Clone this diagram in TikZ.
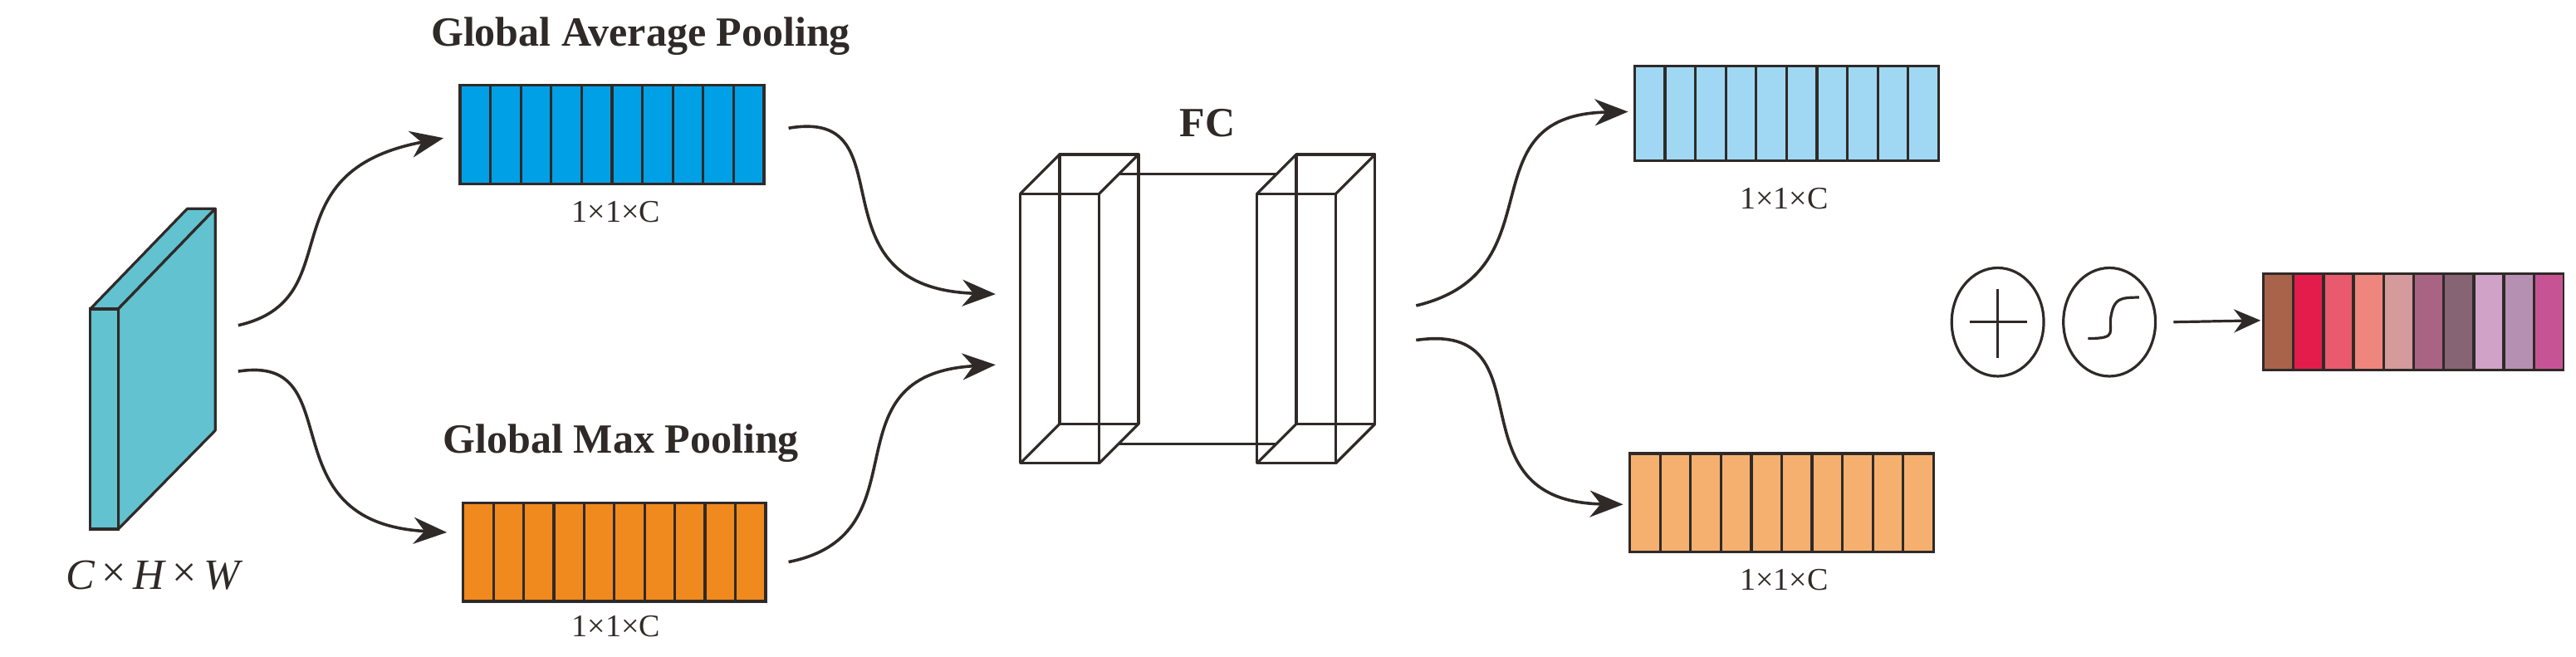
\documentclass[tikz,border=0pt]{standalone}
\usepackage{fontspec}
\setmainfont{Liberation Serif}
\usetikzlibrary{arrows.meta,shapes.geometric}
\definecolor{ink}{HTML}{2F2A28}
\definecolor{slab}{HTML}{62C2D0}
\definecolor{cblue}{HTML}{00A0E6}
\definecolor{corange}{HTML}{F0891E}
\definecolor{lblue}{HTML}{A0D8F4}
\definecolor{lorange}{HTML}{F5B070}
\begin{document}
\begin{tikzpicture}[x=0.4943pt,y=-0.4943pt,line width=0.8pt,draw=ink,
  arr/.style={-{Stealth[length=10pt,width=8pt]},line width=0.9pt,draw=ink},
  lab/.style={font=\fontsize{9.5}{10}\selectfont,text=ink,inner sep=0pt},
  ttl/.style={font=\bfseries\fontsize{12.5}{13}\selectfont,text=ink,inner sep=0pt},
  op/.style={draw=ink,ellipse,minimum width=27.7pt,minimum height=32.6pt,inner sep=0pt,line width=0.8pt}]
\useasboundingbox (0,0) rectangle (1568,399.4);
\newcommand{\mystrip}[5]{% x0 y0 x1 y1 color
  \fill[#5] (#1,#2) rectangle (#3,#4);
  \foreach \i in {1,...,9}{\draw ({#1+\i*(#3-#1)/10},#2) -- ({#1+\i*(#3-#1)/10},#4);}
  \draw (#1,#2) rectangle (#3,#4);}
% input slab
\draw[fill=slab,line join=round] (55,188) -- (114,127) -- (131,127) -- (72,188) -- cycle;
\draw[fill=slab,line join=round] (72,188) -- (131,127) -- (131,262) -- (72,322) -- cycle;
\draw[fill=slab] (55,188) rectangle (72,322);
\node[font=\itshape\fontsize{13}{14}\selectfont,text=ink] (in) at (93,350) {C\,\raisebox{0.1ex}{\upshape×}\,H\,\raisebox{0.1ex}{\upshape×}\,W};
\coordinate (s1) at (145,198);
\coordinate (s2) at (145,226);
% pooling strips
\mystrip{280}{52}{465}{112}{cblue}
\node[ttl] (gap) at (390,22) {Global Average Pooling};
\node[lab] (l1) at (375,129) {1×1×C};
\coordinate (gapin) at (270,84);
\coordinate (gapout) at (480,78);
\mystrip{282}{306}{466}{366}{corange}
\node[ttl] (gmp) at (378,270) {Global Max Pooling};
\node[lab] (l2) at (375,381) {1×1×C};
\coordinate (gmpin) at (272,324);
\coordinate (gmpout) at (480,342);
\draw[arr] (s1) .. controls (215,182) and (160,105) .. (gapin);
\draw[arr] (s2) .. controls (215,215) and (160,318) .. (gmpin);
% FC
\node[ttl] (fc) at (735,75) {FC};
\begin{scope}[line join=round]
\foreach \a in {621,765}{
  \draw (\a,118) rectangle (\a+48,282);
  \draw (\a+24,94) rectangle (\a+72,258);
  \draw (\a,118) -- (\a+24,94) (\a+48,118) -- (\a+72,94)
        (\a,282) -- (\a+24,258) (\a+48,282) -- (\a+72,258);
}
\draw (681,106) -- (777,106);
\draw (681,270) -- (777,270);
\end{scope}
\coordinate (fcin1) at (606,179);
\coordinate (fcin2) at (606,222);
\coordinate (fcout1) at (862,186);
\coordinate (fcout2) at (862,207);
\draw[arr] (gapout) .. controls (555,65) and (490,175) .. (fcin1);
\draw[arr] (gmpout) .. controls (565,325) and (500,228) .. (fcin2);
% right strips
\mystrip{995}{40}{1180}{98}{lblue}
\node[lab] (l3) at (1086,121) {1×1×C};
\mystrip{992}{276}{1177}{336}{lorange}
\node[lab] (l4) at (1086,353) {1×1×C};
\draw[arr] (fcout1) .. controls (950,165) and (890,70) .. (991,68);
\draw[arr] (fcout2) .. controls (945,195) and (880,305) .. (988,307);
% operators
\node[op] (plus) at (1216,196) {};
\draw (1199,196) -- (1234,196) (1216,176) -- (1216,218);
\node[op] (sig) at (1284,196) {};
\draw (1271,206) .. controls (1290,206) and (1283,202) .. (1285,192) .. controls (1287,182) and (1290,181) .. (1302,181);
% output strip
\fill[ink] (1377,166) rectangle (1561,226);
\foreach \c [count=\i from 0] in {A9634A,E31C4C,E95A6E,EE867E,D49A9C,A96383,866474,D0A2C8,B590B2,C65495}{
  \definecolor{tmp}{HTML}{\c}
  \fill[tmp] ({1378.5+\i*18.3},167.5) rectangle ({1378.5+\i*18.3+16.6},224.5);
}
\coordinate (outin) at (1376,195);
\coordinate (sigout) at (1323,196);
\draw[-{Stealth[length=8pt,width=7pt]},line width=0.8pt] (sigout) -- (outin);
\end{tikzpicture}
\end{document}
